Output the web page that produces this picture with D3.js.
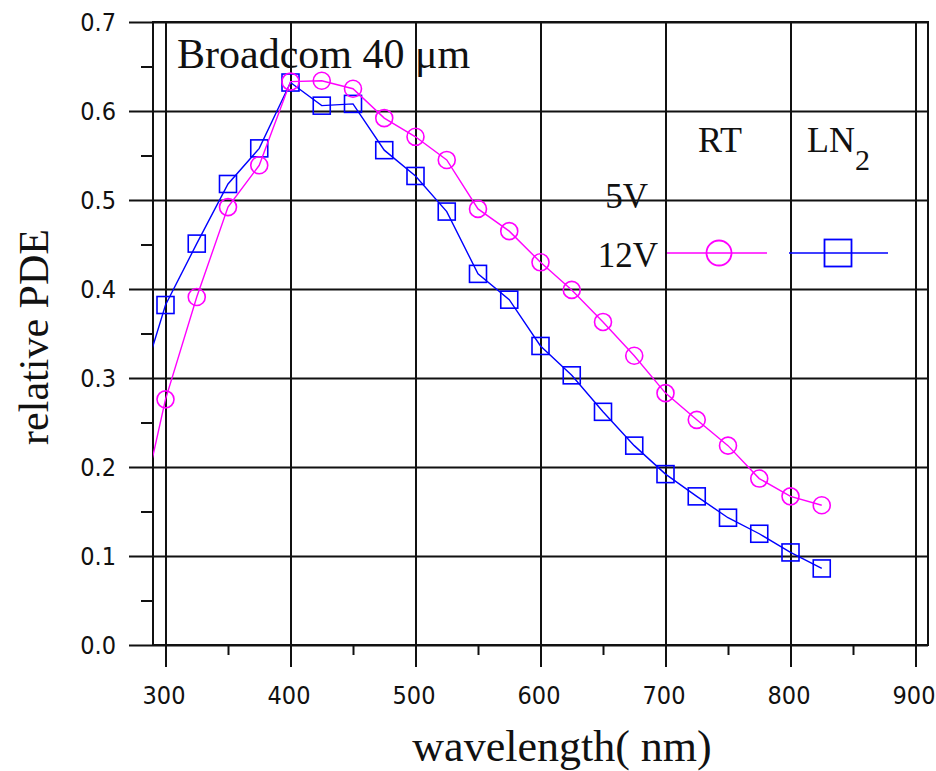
<!DOCTYPE html>
<html>
<head>
<meta charset="utf-8">
<script src="https://cdn.jsdelivr.net/npm/d3@7"></script>
<style>
  html, body { margin: 0; padding: 0; background: #fff; }
  svg { display: block; }
  .tick text { font-family: "Liberation Sans Narrow", "DejaVu Sans Condensed", sans-serif; font-size: 25px; fill: #111; }
  .serif { font-family: "Liberation Serif", "Times New Roman", serif; fill: #111; }
</style>
</head>
<body>
<svg id="chart" width="936" height="771"></svg>
<script>
// Wavelength (nm) of each measurement; the first point lies left of the frame
const wavelength = [280, 300, 325, 350, 375, 400, 425, 450, 475, 500, 525, 550,
                    575, 600, 625, 650, 675, 700, 725, 750, 775, 800, 825];
// Relative PDE at room temperature
const pdeRT = [0.150, 0.276, 0.391, 0.492, 0.539, 0.633, 0.634, 0.625, 0.592, 0.571, 0.545, 0.490,
               0.465, 0.430, 0.399, 0.363, 0.325, 0.283, 0.253, 0.224, 0.187, 0.167, 0.157];
// Relative PDE in liquid nitrogen
const pdeLN2 = [0.290, 0.382, 0.451, 0.518, 0.558, 0.632, 0.606, 0.608, 0.556, 0.527, 0.487, 0.417,
                0.388, 0.336, 0.303, 0.262, 0.224, 0.192, 0.167, 0.143, 0.125, 0.104, 0.086];

const xMajorTicks = [300, 400, 500, 600, 700, 800, 900];
const xMinorTicks = [350, 450, 550, 650, 750, 850];
const yMajorTicks = [0.0, 0.1, 0.2, 0.3, 0.4, 0.5, 0.6, 0.7];
const yMinorTicks = [0.05, 0.15, 0.25, 0.35, 0.45, 0.55, 0.65];

const svg = d3.select("#chart");
const L = 153, R = 928, T = 22, B = 645;

const x = d3.scaleLinear().domain([290, 910]).range([L, R]);
const y = d3.scaleLinear().domain([0, 0.7]).range([B, T]);

const gridStroke = "#111";
const gridWidth = 2;

// Vertical grid lines, extended below the frame as major ticks
const xAxis = svg.append("g")
  .attr("transform", `translate(0,${T})`)
  .call(d3.axisBottom(x).tickValues(xMajorTicks).tickFormat(d3.format("d"))
        .tickSizeInner(B - T + 22).tickSizeOuter(0).tickPadding(19));
xAxis.select(".domain").remove();
xAxis.selectAll(".tick line").attr("stroke", gridStroke).attr("stroke-width", gridWidth);
xAxis.selectAll(".tick text").attr("dx", -2);

// Minor x ticks
const xMinor = svg.append("g")
  .attr("transform", `translate(0,${B})`)
  .call(d3.axisBottom(x).tickValues(xMinorTicks).tickSize(10).tickFormat(""));
xMinor.select(".domain").remove();
xMinor.selectAll(".tick line").attr("stroke", gridStroke).attr("stroke-width", gridWidth);

// Horizontal grid lines, extended left of the frame as major ticks
const yAxis = svg.append("g")
  .attr("transform", `translate(${R},0)`)
  .call(d3.axisLeft(y).tickValues(yMajorTicks).tickFormat(d3.format(".1f"))
        .tickSizeInner(R - L + 24).tickSizeOuter(0).tickPadding(13));
yAxis.select(".domain").remove();
yAxis.selectAll(".tick line").attr("stroke", gridStroke).attr("stroke-width", gridWidth);

// Minor y ticks
const yMinor = svg.append("g")
  .attr("transform", `translate(${L},0)`)
  .call(d3.axisLeft(y).tickValues(yMinorTicks).tickSize(12).tickFormat(""));
yMinor.select(".domain").remove();
yMinor.selectAll(".tick line").attr("stroke", gridStroke).attr("stroke-width", gridWidth);

// Frame
svg.append("rect")
  .attr("x", L).attr("y", T).attr("width", R - L).attr("height", B - T)
  .attr("fill", "none").attr("stroke", gridStroke).attr("stroke-width", gridWidth);

// Plot area clip
svg.append("clipPath").attr("id", "plot-clip")
  .append("rect").attr("x", L).attr("y", T).attr("width", R - L).attr("height", B - T);

const plot = svg.append("g").attr("clip-path", "url(#plot-clip)");

const series = [
  { name: "LN2", values: pdeLN2, color: "#0000ff", shape: "square" },
  { name: "RT", values: pdeRT, color: "#ff00ff", shape: "circle" }
];

const line = d3.line().x(d => x(d[0])).y(d => y(d[1]));
const markerHalf = 8.5;

series.forEach(s => {
  const pts = wavelength.map((w, i) => [w, s.values[i]]);
  plot.append("path")
    .datum(pts)
    .attr("d", line)
    .attr("fill", "none")
    .attr("stroke", s.color)
    .attr("stroke-width", 1.4);
  if (s.shape === "square") {
    plot.selectAll(null).data(pts).enter().append("rect")
      .attr("x", d => x(d[0]) - markerHalf)
      .attr("y", d => y(d[1]) - markerHalf)
      .attr("width", markerHalf * 2).attr("height", markerHalf * 2)
      .attr("fill", "none").attr("stroke", s.color).attr("stroke-width", 1.6);
  } else {
    plot.selectAll(null).data(pts).enter().append("circle")
      .attr("cx", d => x(d[0])).attr("cy", d => y(d[1]))
      .attr("r", markerHalf)
      .attr("fill", "none").attr("stroke", s.color).attr("stroke-width", 1.6);
  }
});

// Annotation and legend
svg.append("text").attr("class", "serif")
  .attr("x", 177).attr("y", 68).attr("font-size", 42)
  .text("Broadcom 40 μm");

svg.append("text").attr("class", "serif")
  .attr("x", 720).attr("y", 152).attr("font-size", 36).attr("text-anchor", "middle")
  .text("RT");
const ln2 = svg.append("text").attr("class", "serif")
  .attr("x", 807).attr("y", 152).attr("font-size", 36);
ln2.append("tspan").text("LN");
ln2.append("tspan").attr("dy", 18).attr("font-size", 30).text("2");

svg.append("text").attr("class", "serif")
  .attr("x", 648).attr("y", 208).attr("font-size", 35).attr("text-anchor", "end")
  .text("5V");
svg.append("text").attr("class", "serif")
  .attr("x", 658).attr("y", 267).attr("font-size", 35).attr("text-anchor", "end")
  .text("12V");

const legendY = 253;
svg.append("line").attr("x1", 667).attr("x2", 767).attr("y1", legendY).attr("y2", legendY)
  .attr("stroke", "#ff00ff").attr("stroke-width", 1.6);
svg.append("circle").attr("cx", 719).attr("cy", legendY).attr("r", 12.5)
  .attr("fill", "none").attr("stroke", "#ff00ff").attr("stroke-width", 1.8);
svg.append("line").attr("x1", 789).attr("x2", 888).attr("y1", legendY).attr("y2", legendY)
  .attr("stroke", "#0000ff").attr("stroke-width", 1.6);
svg.append("rect").attr("x", 838 - 13.5).attr("y", legendY - 13.5).attr("width", 27).attr("height", 27)
  .attr("fill", "none").attr("stroke", "#0000ff").attr("stroke-width", 1.8);

// Axis titles
svg.append("text").attr("class", "serif")
  .attr("x", 562).attr("y", 761).attr("font-size", 44).attr("text-anchor", "middle")
  .text("wavelength( nm)");
svg.append("text").attr("class", "serif")
  .attr("transform", "translate(48,337) rotate(-90)")
  .attr("font-size", 42).attr("text-anchor", "middle")
  .text("relative PDE");
</script>
</body>
</html>
